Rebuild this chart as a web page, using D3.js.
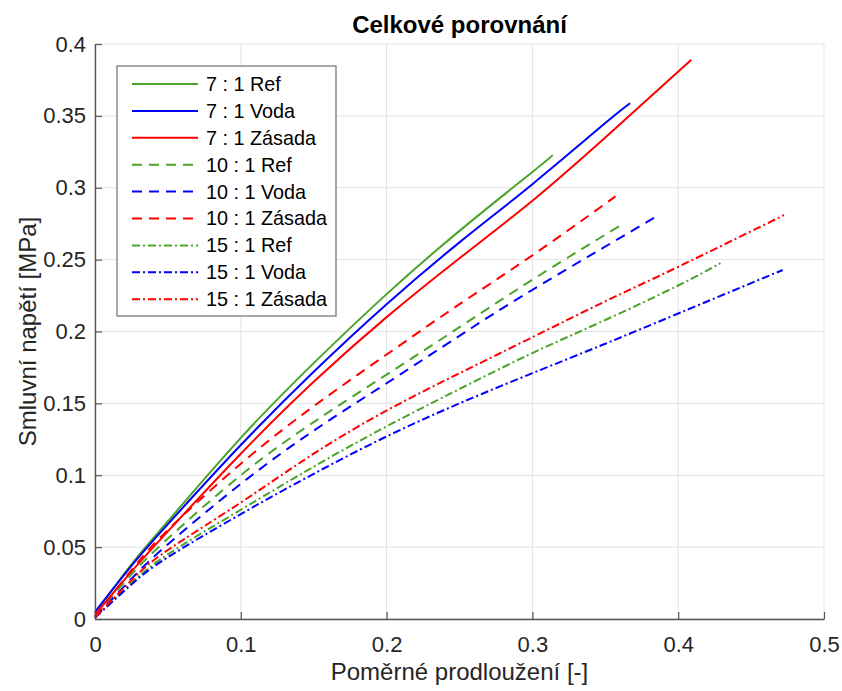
<!DOCTYPE html>
<html>
<head>
<meta charset="utf-8">
<script src="https://cdn.jsdelivr.net/npm/d3@7"></script>
<style>
  body { margin: 0; background: #ffffff; }
  text { font-family: "Liberation Sans", Arial, sans-serif; }
</style>
</head>
<body>
<div id="chart"></div>
<script>
// Series data: [strain, stress MPa]
var ref7    = [[0,0.004],[0.025,0.038],[0.05,0.068],[0.1,0.126],[0.15,0.178],[0.2,0.226],[0.25,0.27],[0.3,0.311],[0.314,0.3227]];
var voda7   = [[0,0.005],[0.025,0.037],[0.05,0.066],[0.1,0.121],[0.15,0.172],[0.2,0.219],[0.25,0.262],[0.3,0.3025],[0.35,0.345],[0.367,0.3588]];
var zasada7 = [[0,0.003],[0.025,0.033],[0.05,0.061],[0.1,0.115],[0.15,0.165],[0.2,0.21],[0.25,0.251],[0.3,0.291],[0.35,0.335],[0.409,0.389]];
var ref10    = [[0,0.002],[0.025,0.031],[0.05,0.056],[0.1,0.1],[0.15,0.137],[0.2,0.17],[0.25,0.203],[0.3,0.236],[0.36,0.2736]];
var voda10   = [[0,0.001],[0.025,0.028],[0.05,0.052],[0.1,0.094],[0.15,0.131],[0.2,0.164],[0.25,0.197],[0.3,0.229],[0.3834,0.279]];
var zasada10 = [[0,0.002],[0.025,0.034],[0.05,0.062],[0.1,0.108],[0.15,0.148],[0.2,0.184],[0.25,0.219],[0.3,0.253],[0.357,0.294]];
var ref15    = [[0,0.001],[0.025,0.025],[0.05,0.045],[0.1,0.076],[0.15,0.106],[0.2,0.134],[0.25,0.16],[0.3,0.185],[0.35,0.208],[0.4,0.232],[0.429,0.2475]];
var voda15   = [[0,0.001],[0.025,0.024],[0.05,0.043],[0.1,0.073],[0.15,0.101],[0.2,0.127],[0.25,0.15],[0.3,0.171],[0.35,0.1915],[0.4,0.2125],[0.4717,0.2428]];
var zasada15 = [[0,0.001],[0.025,0.027],[0.05,0.048],[0.1,0.081],[0.15,0.115],[0.2,0.145],[0.25,0.171],[0.3,0.196],[0.35,0.221],[0.4,0.245],[0.4726,0.281]];

var seriesNames = ['7 : 1 Ref', '7 : 1 Voda', '7 : 1 Zásada',
                   '10 : 1 Ref', '10 : 1 Voda', '10 : 1 Zásada',
                   '15 : 1 Ref', '15 : 1 Voda', '15 : 1 Zásada'];
var seriesData = [ref7, voda7, zasada7, ref10, voda10, zasada10, ref15, voda15, zasada15];

var xTicks = [0, 0.1, 0.2, 0.3, 0.4, 0.5];
var yTicks = [0, 0.05, 0.1, 0.15, 0.2, 0.25, 0.3, 0.35, 0.4];

var titleText = 'Celkové porovnání';
var xLabel = 'Poměrné prodloužení [-]';
var yLabel = 'Smluvní napětí [MPa]';

// colours and line styles per material / ratio
var colors = ['#4aa32a', '#0000ff', '#ff0000'];
var dashes = [null, '10,7', '8,3,2,3'];

// set the dimensions and margins of the graph
var outerWidth = 842;
var outerHeight = 691;
var margin = {top: 44, right: 18, bottom: 72, left: 95};
var innerWidth = outerWidth - margin.left - margin.right;
var innerHeight = outerHeight - margin.top - margin.bottom;

var svg = d3.select('#chart').append('svg')
  .attr('width', outerWidth)
  .attr('height', outerHeight);

var g = svg.append('g')
  .attr('transform', 'translate(' + margin.left + ',' + margin.top + ')');

var x = d3.scaleLinear().domain([0, 0.5]).range([0, innerWidth]),
    y = d3.scaleLinear().domain([0, 0.4]).range([innerHeight, 0]);

// grid lines
g.append('g').selectAll('line.vgrid')
  .data(xTicks).enter().append('line')
  .attr('x1', d => x(d)).attr('x2', d => x(d))
  .attr('y1', 0).attr('y2', innerHeight)
  .attr('stroke', '#e3e3e3').attr('stroke-width', 1);

g.append('g').selectAll('line.hgrid')
  .data(yTicks).enter().append('line')
  .attr('x1', 0).attr('x2', innerWidth)
  .attr('y1', d => y(d)).attr('y2', d => y(d))
  .attr('stroke', '#e3e3e3').attr('stroke-width', 1);

// the curves
var line = d3.line()
  .curve(d3.curveNatural)
  .x(d => x(d[0]))
  .y(d => y(d[1]));

seriesData.forEach(function(data, i) {
  g.append('path')
    .datum(data)
    .attr('d', line)
    .attr('fill', 'none')
    .attr('stroke', colors[i % 3])
    .attr('stroke-width', 2)
    .attr('stroke-dasharray', dashes[Math.floor(i / 3)]);
});

// axes (left and bottom, ticks inward)
var xAxis = g.append('g')
  .attr('transform', 'translate(0,' + innerHeight + ')')
  .call(d3.axisBottom(x).tickValues(xTicks).tickSizeInner(-7).tickSizeOuter(0)
    .tickPadding(17).tickFormat(d3.format('')));

var yAxis = g.append('g')
  .call(d3.axisLeft(y).tickValues(yTicks).tickSizeInner(-7).tickSizeOuter(0)
    .tickPadding(9).tickFormat(d3.format('')));

[xAxis, yAxis].forEach(function(ax) {
  ax.select('.domain').attr('stroke', '#555555').attr('stroke-width', 1.4);
  ax.selectAll('.tick line').attr('stroke', '#555555').attr('stroke-width', 1.2);
  ax.selectAll('.tick text')
    .attr('fill', '#262626')
    .style('font-size', '22px')
    .style('font-family', '"Liberation Sans", Arial, sans-serif');
});

// title and labels
svg.append('text')
  .attr('x', margin.left + innerWidth / 2)
  .attr('y', 33)
  .attr('text-anchor', 'middle')
  .style('font-size', '24px')
  .style('font-weight', 'bold')
  .attr('fill', '#000000')
  .text(titleText);

svg.append('text')
  .attr('x', margin.left + innerWidth / 2)
  .attr('y', 680)
  .attr('text-anchor', 'middle')
  .style('font-size', '24px')
  .attr('fill', '#262626')
  .text(xLabel);

svg.append('text')
  .attr('transform', 'translate(36,' + (margin.top + innerHeight / 2) + ') rotate(-90)')
  .attr('text-anchor', 'middle')
  .style('font-size', '24px')
  .attr('fill', '#262626')
  .text(yLabel);

// legend
var legend = svg.append('g').attr('transform', 'translate(117,66)');

legend.append('rect')
  .attr('width', 219)
  .attr('height', 250)
  .attr('fill', '#ffffff')
  .attr('stroke', '#7a7a7a')
  .attr('stroke-width', 1.3);

var items = legend.selectAll('g.item')
  .data(seriesNames).enter().append('g')
  .attr('transform', (d, i) => 'translate(0,' + (18 + i * 26.9) + ')');

items.append('line')
  .attr('x1', 15).attr('x2', 81)
  .attr('stroke', (d, i) => colors[i % 3])
  .attr('stroke-width', 2)
  .attr('stroke-dasharray', (d, i) => dashes[Math.floor(i / 3)]);

items.append('text')
  .attr('x', 89)
  .attr('dy', '0.35em')
  .style('font-size', '19.8px')
  .attr('fill', '#000000')
  .text(d => d);
</script>
</body>
</html>
